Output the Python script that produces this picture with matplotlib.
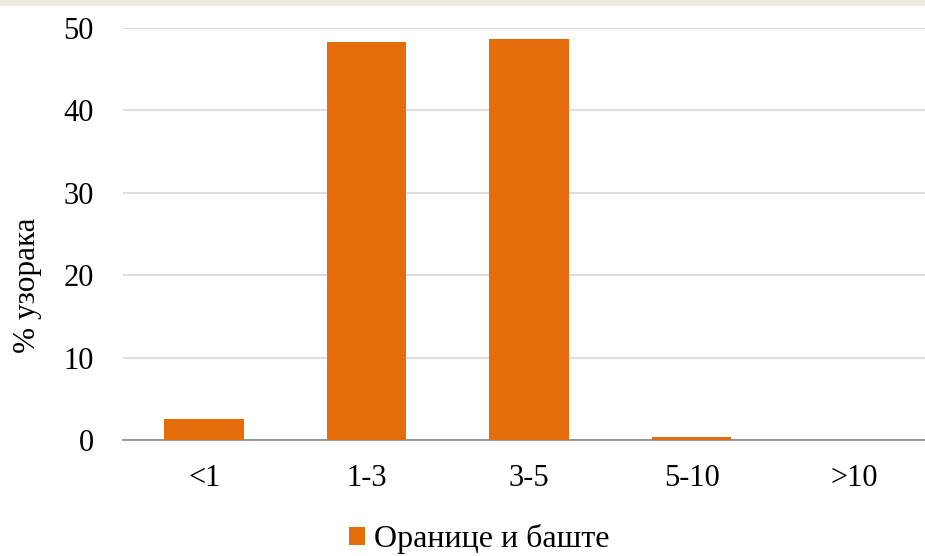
import matplotlib.pyplot as plt
import matplotlib
from matplotlib.patches import Rectangle

matplotlib.rcParams['font.family'] = ['Liberation Serif', 'DejaVu Serif']

categories = ["<1", "1-3", "3-5", "5-10", ">10"]
values = [2.55, 48.3, 48.7, 0.35, 0.0]
series_name = "Оранице и баште"
bar_color = "#E46C0A"

fig = plt.figure(figsize=(9.25, 5.56), dpi=100)
# beige strip at the top (cropped slide header)
fig.patches.append(Rectangle((0, 0.989), 1, 0.011, transform=fig.transFigure,
                             facecolor="#EEEBE0", edgecolor="none", zorder=0))

ax = fig.add_axes([0.133, 0.2086, 0.878, 0.741])
x = range(len(categories))
bars = ax.bar(x, values, width=0.49, color=bar_color, label=series_name, zorder=3)

ax.set_xlim(-0.5, len(categories) - 0.5)
ax.set_ylim(0, 50)
ax.set_yticks([0, 10, 20, 30, 40, 50])
ax.set_xticks(list(x))
ax.set_xticklabels(categories)
ax.tick_params(axis='both', length=0, labelsize=22)
ax.tick_params(axis='x', pad=17)
ax.tick_params(axis='y', pad=21)

ax.grid(axis='y', color="#D9D9D9", linewidth=1.2, zorder=0)
for s in ['top', 'right', 'left']:
    ax.spines[s].set_visible(False)
ax.spines['bottom'].set_color("#898989")
ax.spines['bottom'].set_linewidth(1.2)

ax.set_ylabel("% узорака", fontsize=22.5)
ax.yaxis.set_label_coords(-0.1, 0.375)

fig.legend(handles=[bars], labels=[series_name], loc='center',
           bbox_to_anchor=(0.518, 0.03), frameon=False, fontsize=23,
           handlelength=0.5, handleheight=0.5, handletextpad=0.3,
           borderpad=0)

plt.savefig("out.png", dpi=100)
